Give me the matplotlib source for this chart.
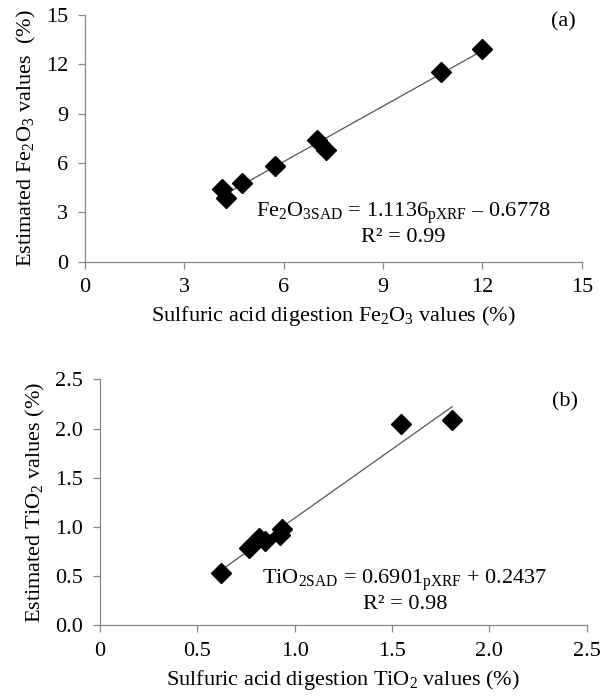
import numpy as np
import matplotlib
matplotlib.use("Agg")
import matplotlib.pyplot as plt

plt.rcParams['font.family'] = ['Liberation Serif', 'DejaVu Serif']
plt.rcParams['mathtext.fontset'] = 'custom'
plt.rcParams['mathtext.rm'] = 'Liberation Serif'
plt.rcParams['mathtext.it'] = 'Liberation Serif:italic'
plt.rcParams['mathtext.default'] = 'rm'

# Panel (a): Fe2O3
fe_sad = [4.15, 4.25, 4.73, 5.75, 7.01, 7.27, 10.76, 11.99]
fe_est = [4.40, 3.85, 4.80, 5.80, 7.40, 6.80, 11.55, 12.90]
fe_ticks = [0, 3, 6, 9, 12, 15]

# Panel (b): TiO2
ti_sad = [0.621, 0.765, 0.818, 0.847, 0.924, 0.933, 1.544, 1.810]
ti_est = [0.526, 0.780, 0.882, 0.858, 0.920, 0.977, 2.045, 2.085]
ti_ticks = [0.0, 0.5, 1.0, 1.5, 2.0, 2.5]
ti_xticklabels = ['0', '0.5', '1.0', '1.5', '2.0', '2.5']
ti_yticklabels = ['0.0', '0.5', '1.0', '1.5', '2.0', '2.5']

fig = plt.figure(figsize=(6.06, 7.0), dpi=100)
ax1 = fig.add_axes([0.140, 0.626, 0.820, 0.353])
ax2 = fig.add_axes([0.165, 0.107, 0.803, 0.351])

FS = 16
gray = '#888888'

def style(ax):
    for s in ['top', 'right']:
        ax.spines[s].set_visible(False)
    for s in ['left', 'bottom']:
        ax.spines[s].set_color(gray)
        ax.spines[s].set_linewidth(0.9)
    ax.tick_params(axis='both', direction='out', color=gray, length=5,
                   width=0.9, labelsize=FS, pad=7)

def trend(ax, x, y):
    x = np.asarray(x); y = np.asarray(y)
    m, b = np.polyfit(x, y, 1)
    xs = np.array([x.min(), x.max()])
    ax.plot(xs, m * xs + b, color='#555555', lw=0.9, zorder=1)

# (a)
style(ax1)
trend(ax1, fe_sad, fe_est)
ax1.plot(fe_sad, fe_est, 'D', color='black', markersize=10.5, zorder=2)
ax1.set_xlim(0, 15); ax1.set_ylim(0, 15)
ax1.set_xticks(fe_ticks); ax1.set_yticks(fe_ticks)
ax1.set_xlabel('Sulfuric acid digestion Fe$_2$O$_3$ values (%)', fontsize=FS, labelpad=5)
ax1.set_ylabel('Estimated Fe$_2$O$_3$ values  (%)', fontsize=FS, labelpad=6)
ax1.text(9.6, 2.97, 'Fe$_2$O$_{3\\mathrm{SAD}}$ = 1.1136$_{\\mathrm{pXRF}}$ \u2013 0.6778',
         fontsize=FS, ha='center', va='center')
ax1.text(9.6, 1.5, 'R\u00b2 = 0.99', fontsize=FS, ha='center', va='center')
ax1.text(14.44, 14.57, '(a)', fontsize=FS, ha='center', va='center')

# (b)
style(ax2)
trend(ax2, ti_sad, ti_est)
ax2.plot(ti_sad, ti_est, 'D', color='black', markersize=10.5, zorder=2)
ax2.set_xlim(0, 2.5); ax2.set_ylim(0, 2.5)
ax2.set_xticks(ti_ticks); ax2.set_xticklabels(ti_xticklabels)
ax2.set_yticks(ti_ticks); ax2.set_yticklabels(ti_yticklabels)
ax2.set_xlabel('Sulfuric acid digestion TiO$_2$ values (%)', fontsize=FS, labelpad=5)
ax2.set_ylabel('Estimated TiO$_2$ values (%)', fontsize=FS, labelpad=6)
ax2.text(1.567, 0.458, 'TiO$_{2\\mathrm{SAD}}$ = 0.6901$_{\\mathrm{pXRF}}$ + 0.2437',
         fontsize=FS, ha='center', va='center')
ax2.text(1.567, 0.214, 'R\u00b2 = 0.98', fontsize=FS, ha='center', va='center')
ax2.text(2.39, 2.27, '(b)', fontsize=FS, ha='center', va='center')

fig.savefig('out.png', dpi=100)
